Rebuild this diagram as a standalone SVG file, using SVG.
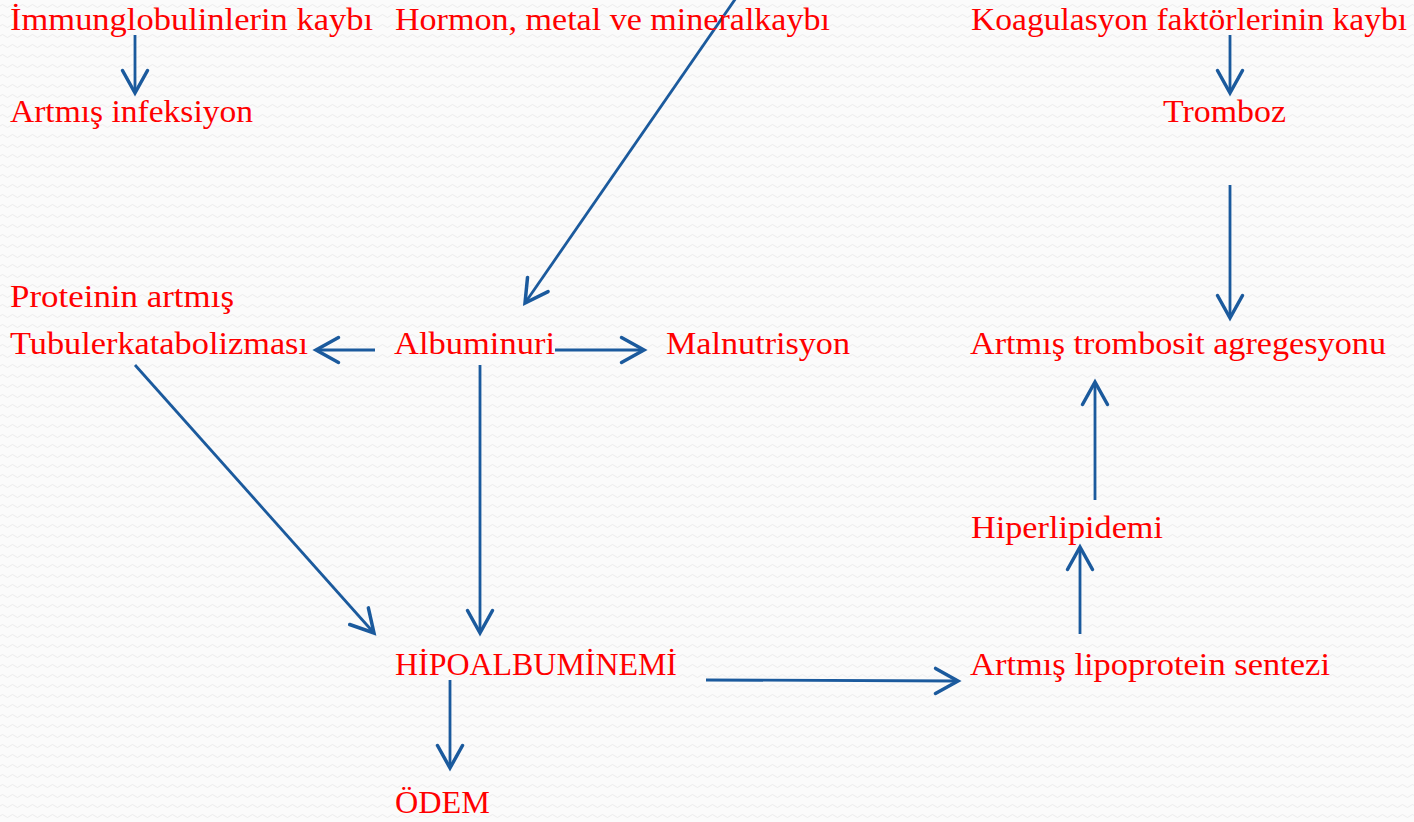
<svg xmlns="http://www.w3.org/2000/svg" width="1414" height="822" viewBox="0 0 1414 822">
  <defs>
    <pattern id="bg" width="10" height="10" patternUnits="userSpaceOnUse">
      <rect width="10" height="10" fill="#fbfbfb"/>
      <path d="M0,6 Q2.5,3 5,6 T10,6" fill="none" stroke="#ececec" stroke-width="1"/>
    </pattern>
    <marker id="ah" markerUnits="userSpaceOnUse" markerWidth="30" markerHeight="30" viewBox="-20 -12 24 24" refX="0" refY="0" orient="auto" overflow="visible">
      <path d="M-18,-10 L0,0 L-18,10" fill="none" stroke="#1b5a9d" stroke-width="2.8" stroke-linecap="round" stroke-linejoin="miter"/>
    </marker>
    <style>
      .t { font-family: "Liberation Serif", "DejaVu Serif", serif; font-size: 32px; fill: #ff0000; }
      .c line { stroke: #1b5a9d; stroke-width: 2.8; marker-end: url(#ah); }
    </style>
  </defs>
  <rect width="1414" height="822" fill="url(#bg)"/>

  <g id="connectors" class="c">
    <line x1="135" y1="35" x2="135" y2="93"/>
    <line x1="1230" y1="35" x2="1230" y2="93"/>
    <line x1="736" y1="-2" x2="525" y2="303"/>
    <line x1="1230" y1="185" x2="1230" y2="318"/>
    <line x1="375" y1="350" x2="316" y2="350"/>
    <line x1="555" y1="350" x2="644" y2="350"/>
    <line x1="480" y1="365" x2="480" y2="633"/>
    <line x1="135" y1="365" x2="374" y2="633"/>
    <line x1="450" y1="680" x2="450" y2="768"/>
    <line x1="706" y1="680" x2="958" y2="681"/>
    <line x1="1080" y1="634" x2="1080" y2="547"/>
    <line x1="1095" y1="500" x2="1095" y2="382"/>
  </g>

  <g id="n-immun"><text class="t" x="10" y="30" textLength="363" lengthAdjust="spacingAndGlyphs">İmmunglobulinlerin kaybı</text></g>
  <g id="n-hormon"><text class="t" x="395" y="30" textLength="435" lengthAdjust="spacingAndGlyphs">Hormon, metal ve mineralkaybı</text></g>
  <g id="n-koag"><text class="t" x="971" y="30" textLength="436" lengthAdjust="spacingAndGlyphs">Koagulasyon faktörlerinin kaybı</text></g>
  <g id="n-infeksiyon"><text class="t" x="10" y="122" textLength="243" lengthAdjust="spacingAndGlyphs">Artmış infeksiyon</text></g>
  <g id="n-tromboz"><text class="t" x="1163" y="122" textLength="123" lengthAdjust="spacingAndGlyphs">Tromboz</text></g>
  <g id="n-tubuler">
    <text class="t" x="10" y="307" textLength="224" lengthAdjust="spacingAndGlyphs">Proteinin artmış</text>
    <text class="t" x="10" y="354" textLength="298" lengthAdjust="spacingAndGlyphs">Tubulerkatabolizması</text>
  </g>
  <g id="n-albuminuri"><text class="t" x="394" y="354" textLength="161" lengthAdjust="spacingAndGlyphs">Albuminuri</text></g>
  <g id="n-malnutrisyon"><text class="t" x="666" y="354" textLength="184" lengthAdjust="spacingAndGlyphs">Malnutrisyon</text></g>
  <g id="n-trombosit"><text class="t" x="970" y="354" textLength="416" lengthAdjust="spacingAndGlyphs">Artmış trombosit agregesyonu</text></g>
  <g id="n-hiperlipidemi"><text class="t" x="971" y="538" textLength="192" lengthAdjust="spacingAndGlyphs">Hiperlipidemi</text></g>
  <g id="n-hipoalbuminemi"><text class="t" x="395" y="675" textLength="282" lengthAdjust="spacingAndGlyphs">HİPOALBUMİNEMİ</text></g>
  <g id="n-lipoprotein"><text class="t" x="970" y="675" textLength="360" lengthAdjust="spacingAndGlyphs">Artmış lipoprotein sentezi</text></g>
  <g id="n-odem"><text class="t" x="395" y="813" textLength="95" lengthAdjust="spacingAndGlyphs">ÖDEM</text></g>
</svg>
